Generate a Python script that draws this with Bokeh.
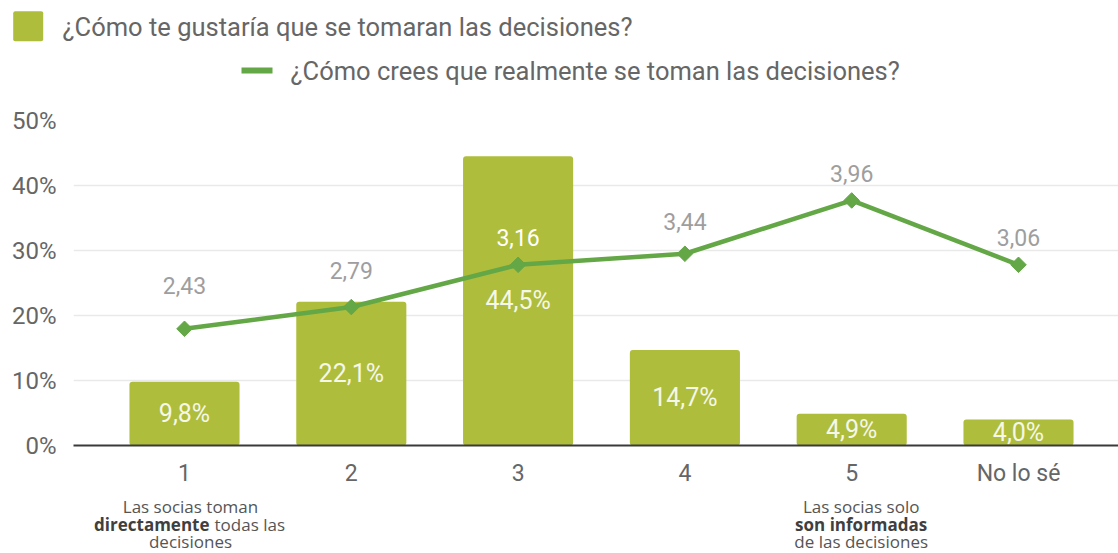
from bokeh.plotting import figure
from bokeh.layouts import column
from bokeh.models import Range1d, FixedTicker, ColumnDataSource
from bokeh.embed import file_html
from bokeh.resources import INLINE
from bokeh.core.properties import value

# ---------------- data ----------------
categories = ["1", "2", "3", "4", "5", "No lo sé"]
wish_pct = [9.8, 22.1, 44.5, 14.7, 4.9, 4.0]
wish_labels = ["9,8%", "22,1%", "44,5%", "14,7%", "4,9%", "4,0%"]
real_pos = [17.95, 21.3, 27.8, 29.5, 37.7, 27.8]
real_labels = ["2,43", "2,79", "3,16", "3,44", "3,96", "3,06"]
y_ticks = [0, 10, 20, 30, 40, 50]
y_tick_labels = ["0%", "10%", "20%", "30%", "40%", "50%"]
series_names = ["¿Cómo te gustaría que se tomaran las decisiones?",
                "¿Cómo crees que realmente se toman las decisiones?"]
note_first = ["Las socias toman", "directamente", "todas las", "decisiones"]
note_fifth = ["Las socias solo", "son informadas", "de las decisiones"]

# ---------------- style ----------------
OLIVE = "#afbd3c"
GREEN = "#64a746"
GRAY_TXT = "#666666"
W = 1118
TOP_H, MAIN_H, BOT_H = 100, 395, 58
LEFT = 73
CAT0_PX, CAT_STEP_PX = 184, 166.8
x_range = Range1d(-(CAT0_PX - LEFT) / CAT_STEP_PX, (W - CAT0_PX) / CAT_STEP_PX)


def bare(fig):
    fig.outline_line_color = None
    fig.xgrid.visible = False
    fig.ygrid.visible = False
    fig.background_fill_color = "white"
    fig.border_fill_color = "white"


# ---------------- legend strip ----------------
top = figure(width=W, height=TOP_H, x_range=Range1d(0, W), y_range=Range1d(TOP_H, 0),
             output_backend="svg", toolbar_location=None, x_axis_location=None,
             y_axis_location=None, min_border=0, min_border_left=0, min_border_right=0,
             min_border_top=0, min_border_bottom=0, frame_align=False)
bare(top)
ROW1, ROW2 = 26.5, 70.5
top.quad(left=[12.7], right=[42.7], top=[10.7], bottom=[40.7], fill_color=OLIVE,
         line_color=None, border_radius=2)
top.quad(left=[241], right=[272], top=[ROW2 - 3.5], bottom=[ROW2 + 2.5], fill_color=GREEN,
         line_color=None)
top.text(x=[62, 290], y=[ROW1, ROW2], text=series_names, text_align="left",
         text_baseline="middle", text_font=value("Roboto"), text_font_size="25.5px",
         text_color=GRAY_TXT)

# ---------------- main chart ----------------
xs = list(range(len(categories)))
p = figure(width=W, height=MAIN_H, x_range=x_range, y_range=Range1d(0, 50),
           output_backend="svg", toolbar_location=None,
           min_border_left=LEFT, min_border_right=0, min_border_top=20, min_border_bottom=50)
p.outline_line_color = None
p.background_fill_color = "white"
p.border_fill_color = "white"

p.yaxis.ticker = FixedTicker(ticks=y_ticks)
p.yaxis.major_label_overrides = {t: l for t, l in zip(y_ticks, y_tick_labels)}
p.yaxis.axis_line_color = None
p.yaxis.major_tick_line_color = None
p.yaxis.minor_tick_line_color = None
p.yaxis.major_tick_out = 0
p.yaxis.major_label_standoff = 17
p.yaxis.major_label_text_font = "Roboto"
p.yaxis.major_label_text_font_size = "24px"
p.yaxis.major_label_text_color = GRAY_TXT

p.xaxis.ticker = FixedTicker(ticks=xs)
p.xaxis.major_label_overrides = {i: c for i, c in zip(xs, categories)}
p.xaxis.axis_line_color = "#3a3a3a"
p.xaxis.axis_line_width = 2
p.xaxis.major_tick_line_color = None
p.xaxis.minor_tick_line_color = None
p.xaxis.major_tick_out = 0
p.xaxis.major_label_standoff = 14
p.xaxis.major_label_text_font = "Roboto"
p.xaxis.major_label_text_font_size = "23px"
p.xaxis.major_label_text_color = GRAY_TXT

p.xgrid.visible = False
p.ygrid.grid_line_color = "#e9e9e9"
p.ygrid.grid_line_width = 1.5

bar_src = ColumnDataSource(dict(x=xs, top=wish_pct, mid=[v / 2 for v in wish_pct], lab=wish_labels))
p.vbar(x="x", top="top", width=0.66, source=bar_src, fill_color=OLIVE,
       line_color=None, border_radius=3)
p.text(x="x", y="mid", text="lab", source=bar_src, text_align="center", text_baseline="middle",
       text_font=value("Roboto"), text_font_size="25px", text_color="#f5f7e8")

line_label_offsets = [-43, -37, -27, -32, -27, -27]
line_label_colors = ["#9e9e9e", "#9e9e9e", "#ffffff", "#9e9e9e", "#9e9e9e", "#9e9e9e"]
line_src = ColumnDataSource(dict(x=xs, y=real_pos, lab=real_labels,
                                 off=line_label_offsets, col=line_label_colors))
p.line(x="x", y="y", source=line_src, line_color=GREEN, line_width=4.5)
p.scatter(x="x", y="y", source=line_src, marker="square", angle=0.7854, size=11,
          fill_color=GREEN, line_color=GREEN)
p.text(x="x", y="y", text="lab", source=line_src, y_offset="off", text_align="center",
       text_baseline="middle", text_font=value("Roboto"), text_font_size="23px",
       text_color="col")

# ---------------- notes strip ----------------
y0 = TOP_H + MAIN_H
bot = figure(width=W, height=BOT_H, x_range=x_range, y_range=Range1d(y0 + BOT_H, y0),
             output_backend="svg", toolbar_location=None, x_axis_location=None,
             y_axis_location=None, min_border_left=LEFT, min_border_right=0,
             min_border_top=0, min_border_bottom=0)
bare(bot)
rows = [506, 524, 541]
SUB = dict(text_baseline="middle", text_font=value("Open Sans"), text_font_size="17px")
NORMAL_C, BOLD_C = "#555555", "#3f3f3f"
bot.text(x=[0, 0], y=[rows[0], rows[2]], text=[note_first[0], note_first[3]], x_offset=6,
         text_align="center", text_color=NORMAL_C, **SUB)
bot.text(x=[0], y=[rows[1]], text=[note_first[1]], x_offset=25, text_align="right",
         text_font_style="bold", text_color=BOLD_C, **SUB)
bot.text(x=[0], y=[rows[1]], text=[note_first[2]], x_offset=30, text_align="left",
         text_color=NORMAL_C, **SUB)
bot.text(x=[4, 4], y=[rows[0], rows[2]], text=[note_fifth[0], note_fifth[2]], x_offset=9.5,
         text_align="center", text_color=NORMAL_C, **SUB)
bot.text(x=[4], y=[rows[1]], text=[note_fifth[1]], x_offset=9.5, text_align="center",
         text_font_style="bold", text_color=BOLD_C, **SUB)

layout = column(top, p, bot, spacing=0)
open("out.html", "w").write(file_html(layout, INLINE))
